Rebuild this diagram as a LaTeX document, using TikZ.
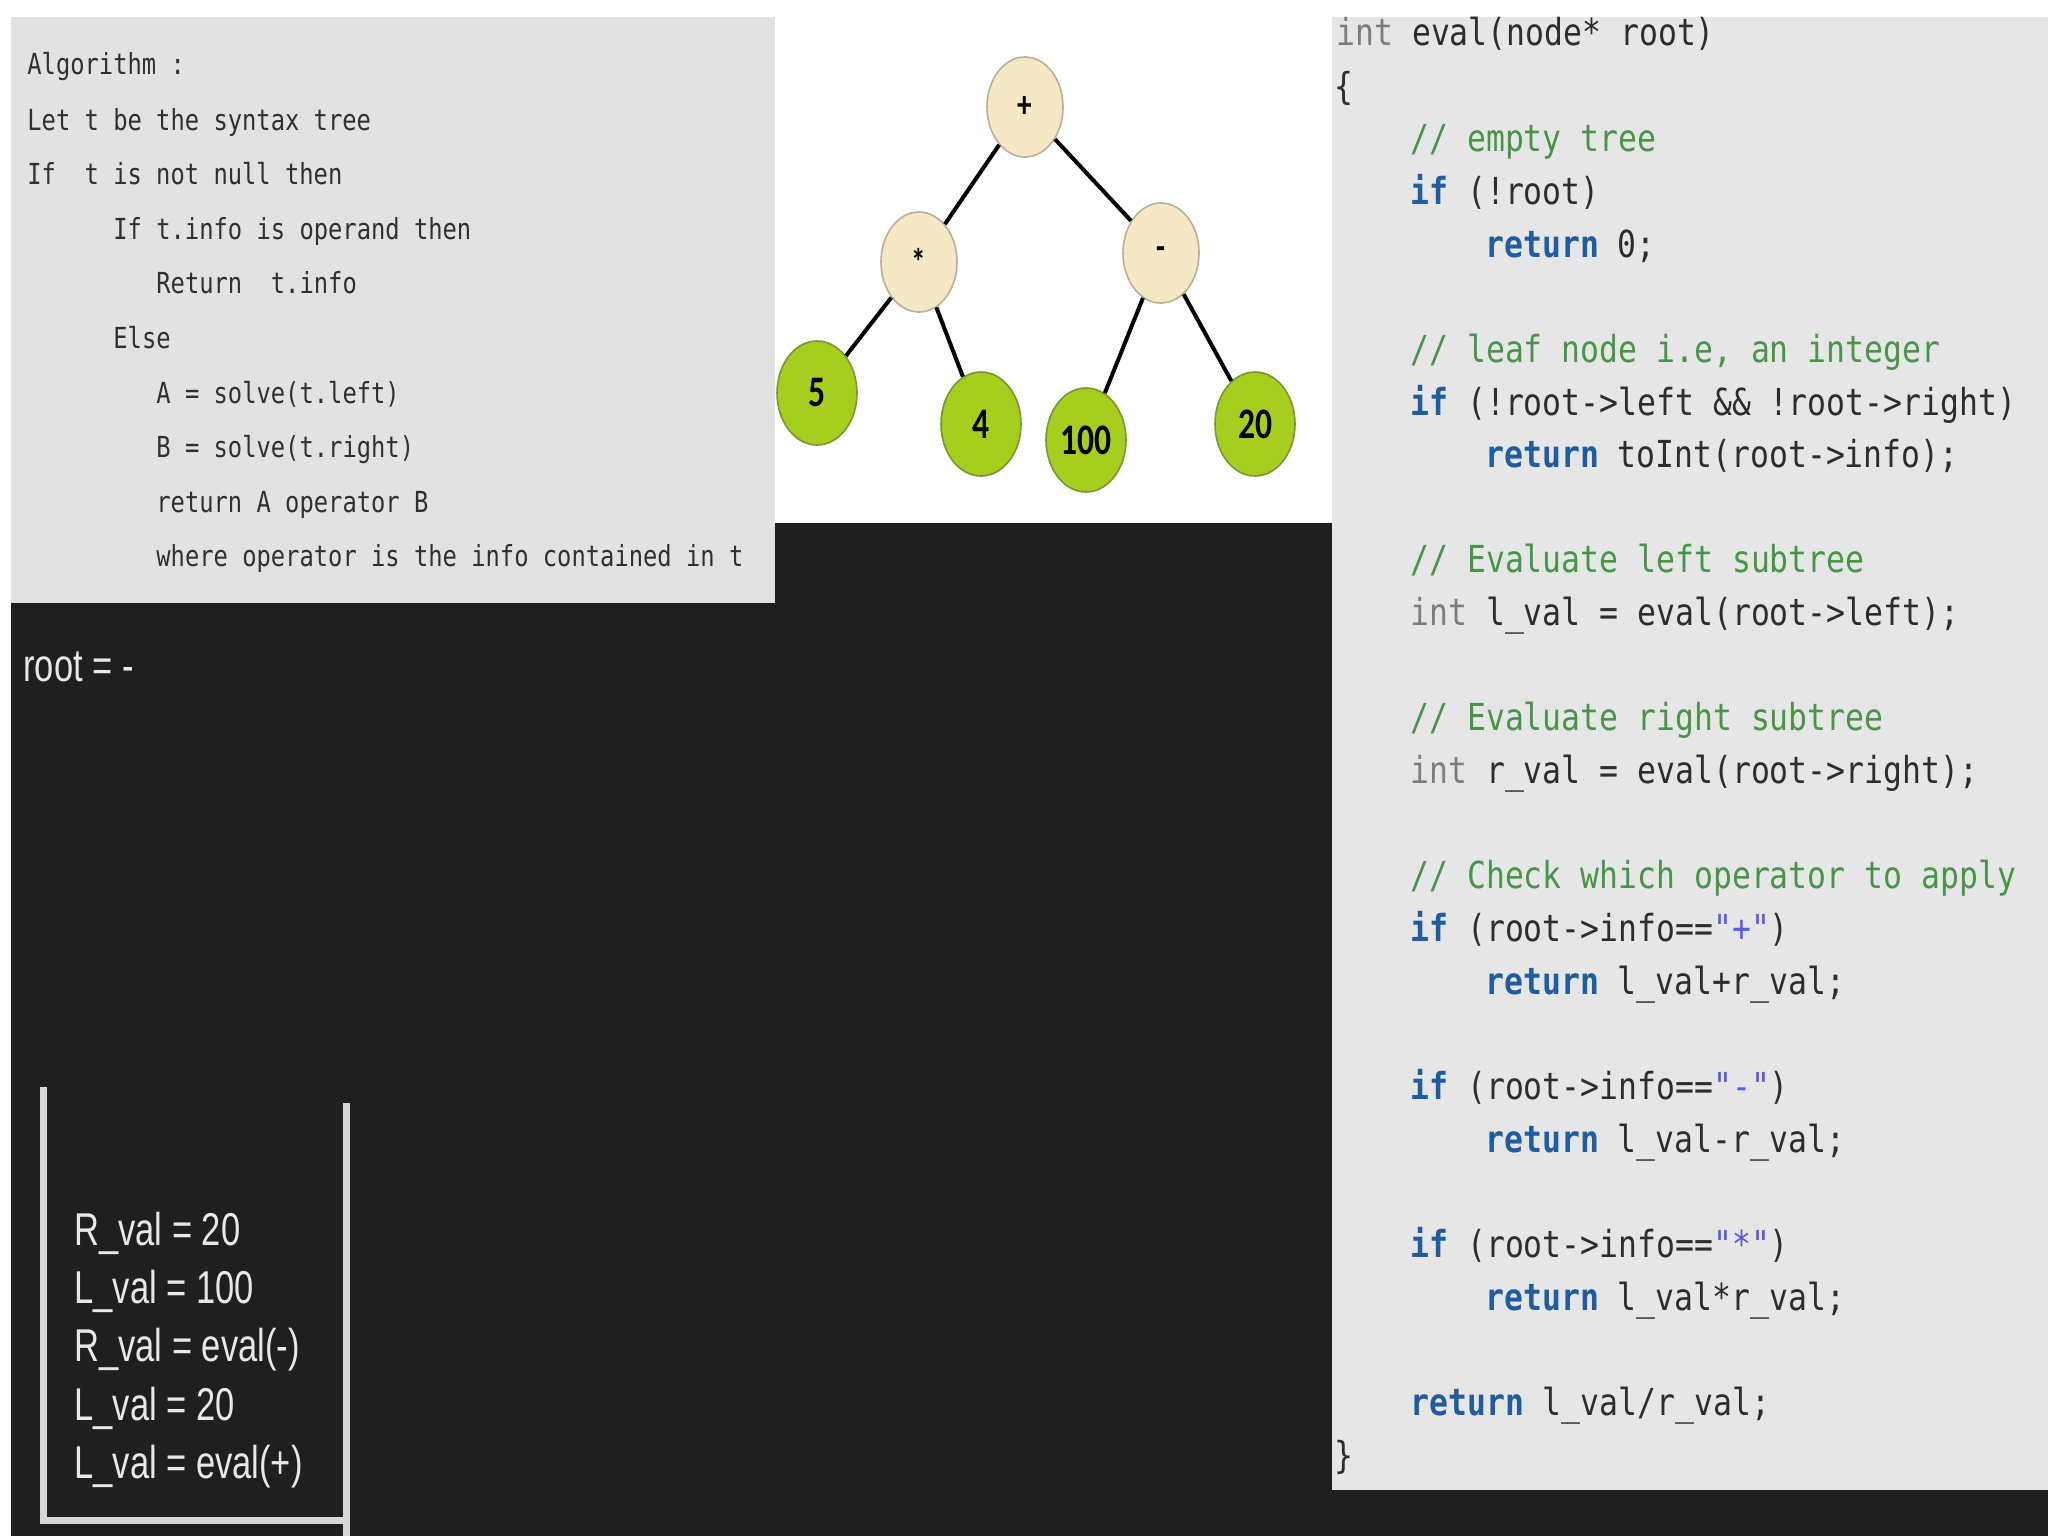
\documentclass[tikz,border=0pt]{standalone}
\usepackage{fontspec}
\usepackage{tikz}
\usetikzlibrary{shapes.geometric,positioning}

\newfontfamily\algofont[FakeStretch=0.82,Ligatures=TeXOff]{DejaVu Sans Mono}
\newfontfamily\codefont[FakeStretch=0.845,Ligatures=TeXOff]{DejaVu Sans Mono}
\newfontfamily\stackfont[FakeStretch=0.75]{Liberation Sans}
\newfontfamily\treefont[FakeStretch=0.77]{Carlito}

\definecolor{bgdark}{RGB}{31,31,31}
\definecolor{panelgray}{RGB}{226,226,226}
\definecolor{codegray}{RGB}{230,230,230}
\definecolor{algotext}{RGB}{48,48,48}
\definecolor{codetext}{RGB}{45,45,45}
\definecolor{cmtgreen}{RGB}{70,150,70}
\definecolor{kwblue}{RGB}{32,92,160}
\definecolor{typgray}{RGB}{125,125,125}
\definecolor{strblue}{RGB}{90,90,225}
\definecolor{opfill}{RGB}{246,232,196}
\definecolor{opedge}{RGB}{185,175,150}
\definecolor{leaffill}{RGB}{166,206,30}
\definecolor{leafedge}{RGB}{120,150,50}
\definecolor{stacktext}{RGB}{232,232,232}
\definecolor{stackline}{RGB}{215,215,215}

\newcommand{\kw}[1]{\textcolor{kwblue}{\bfseries #1}}
\newcommand{\cmt}[1]{\textcolor{cmtgreen}{#1}}
\newcommand{\typ}[1]{\textcolor{typgray}{#1}}
\newcommand{\strlit}[1]{\textcolor{strblue}{#1}}

\begin{document}
\begin{tikzpicture}[
  x=0.5pt, y=-0.5pt,
  algo/.style={anchor=base west, inner sep=0pt, text=algotext,
    font=\algofont\fontsize{14.5}{16}\selectfont},
  code/.style={anchor=base west, inner sep=0pt, text=codetext,
    font=\codefont\fontsize{18.6}{22}\selectfont},
  stackitem/.style={anchor=base west, inner sep=0pt, text=stacktext,
    font=\stackfont\fontsize{23}{26}\selectfont},
  opnode/.style={ellipse, draw=opedge, line width=0.8pt, fill=opfill,
    minimum width=38pt, minimum height=50pt, inner sep=0pt,
    font=\treefont\bfseries\fontsize{19}{19}\selectfont},
  leaf/.style={ellipse, draw=leafedge, line width=0.8pt, fill=leaffill,
    minimum width=40pt, minimum height=52pt, inner sep=0pt,
    font=\treefont\bfseries\fontsize{21.8}{22}\selectfont},
  branch/.style={line width=2pt, black},
]
  \useasboundingbox (0,0) rectangle (2048,1536);

  % panels
  \fill[bgdark] (0,0) rectangle (2048,1536);
  \fill[white] (0,0) rectangle (2048,17);
  \fill[white] (0,0) rectangle (11,1536);
  \fill[white] (775,0) rectangle (1332,523);
  \fill[panelgray] (11,17) rectangle (775,603);
  \fill[codegray] (1332,17) rectangle (2048,1490);

  % algorithm
  \node[algo] (alg1) at (27,75) {Algorithm :};
  \node[algo] (alg2) at (27,130) {Let t be the syntax tree};
  \node[algo] (alg3) at (27,184) {If~ t is not null then};
  \node[algo] (alg4) at (113,239) {If t.info is operand then};
  \node[algo] (alg5) at (156,293) {Return~ t.info};
  \node[algo] (alg6) at (113,348) {Else};
  \node[algo] (alg7) at (156,403) {A = solve(t.left)};
  \node[algo] (alg8) at (156,457) {B = solve(t.right)};
  \node[algo] (alg9) at (156,512) {return A operator B};
  \node[algo] (alg10) at (156,566) {where operator is the info contained in t};

  % expression tree
  \node[opnode] (plus) at (1025,107) {+};
  \node[opnode] (mul) at (919,262) {*};
  \node[opnode] (sub) at (1161,253) {-};
  \node[leaf] (five) at (817,393) {5};
  \node[leaf] (four) at (981,424) {4};
  \node[leaf] (hundred) at (1086,440) {100};
  \node[leaf] (twenty) at (1255,424) {20};

  \draw[branch] (plus) -- (mul);
  \draw[branch] (plus) -- (sub);
  \draw[branch] (mul) -- (five);
  \draw[branch] (mul) -- (four);
  \draw[branch] (sub) -- (hundred);
  \draw[branch] (sub) -- (twenty);

  % eval code
  \node[code] (c0) at (1336,46) {\typ{int} eval(node* root)};
  \node[code] (c1) at (1334,99) {\{};
  \node[code] (c2) at (1410,151) {\cmt{// empty tree}};
  \node[code] (c3) at (1410,204) {\kw{if} (!root)};
  \node[code] (c4) at (1485,257) {\kw{return} 0;};
  \node[code] (c6) at (1410,362) {\cmt{// leaf node i.e, an integer}};
  \node[code] (c7) at (1410,415) {\kw{if} (!root->left \&\& !root->right)};
  \node[code] (c8) at (1485,467) {\kw{return} toInt(root->info);};
  \node[code] (c10) at (1410,572) {\cmt{// Evaluate left subtree}};
  \node[code] (c11) at (1410,625) {\typ{int} l\_val = eval(root->left);};
  \node[code] (c13) at (1410,730) {\cmt{// Evaluate right subtree}};
  \node[code] (c14) at (1410,783) {\typ{int} r\_val = eval(root->right);};
  \node[code] (c16) at (1410,888) {\cmt{// Check which operator to apply}};
  \node[code] (c17) at (1410,941) {\kw{if} (root->info==\strlit{"+"})};
  \node[code] (c18) at (1485,994) {\kw{return} l\_val+r\_val;};
  \node[code] (c20) at (1410,1099) {\kw{if} (root->info==\strlit{"-"})};
  \node[code] (c21) at (1485,1152) {\kw{return} l\_val-r\_val;};
  \node[code] (c23) at (1410,1257) {\kw{if} (root->info==\strlit{"*"})};
  \node[code] (c24) at (1485,1310) {\kw{return} l\_val*r\_val;};
  \node[code] (c26) at (1410,1415) {\kw{return} l\_val/r\_val;};
  \node[code] (c27) at (1334,1468) {\}};

  % call stack
  \node[stackitem] (rootlbl) at (23,681) {root = -};
  \node[stackitem] (s1) at (74,1245) {R\_val = 20};
  \node[stackitem] (s2) at (74,1303) {L\_val = 100};
  \node[stackitem] (s3) at (74,1361) {R\_val = eval(-)};
  \node[stackitem] (s4) at (74,1420) {L\_val = 20};
  \node[stackitem] (s5) at (74,1478) {L\_val = eval(+)};

  \draw[stackline, line width=3.5pt] (43,1087) -- (43,1520) -- (344,1520);
  \draw[stackline, line width=3.5pt] (346,1103) -- (346,1536);
\end{tikzpicture}
\end{document}
